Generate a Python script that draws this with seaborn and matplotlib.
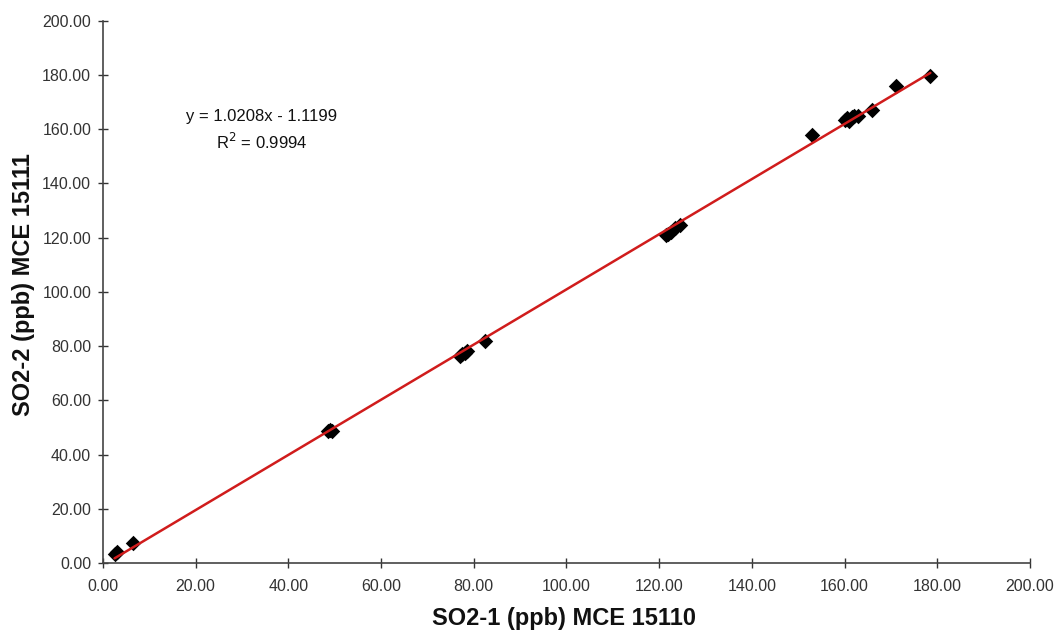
import matplotlib
matplotlib.use("Agg")
import matplotlib.pyplot as plt
import seaborn as sns
import pandas as pd
import numpy as np

so2_1 = [2.5, 3.0, 6.5, 48.5, 49.0, 49.5, 77.0, 77.5, 78.0, 78.5, 82.5,
         121.5, 122.0, 122.5, 123.5, 124.5, 153.0, 160.0, 160.5, 161.0,
         161.5, 162.0, 163.0, 166.0, 171.0, 178.5]
so2_2 = [3.5, 4.0, 7.5, 48.5, 49.0, 48.5, 76.5, 77.0, 77.5, 78.0, 82.0,
         121.0, 121.5, 122.0, 123.5, 124.5, 158.0, 163.5, 164.0, 163.0,
         164.5, 165.0, 165.0, 167.0, 176.0, 179.5]
ticks = [0, 20, 40, 60, 80, 100, 120, 140, 160, 180, 200]
xlabel = "SO2-1 (ppb) MCE 15110"
ylabel = "SO2-2 (ppb) MCE 15111"
eq_text = "y = 1.0208x - 1.1199"
r2_text = "R$^2$ = 0.9994"

df = pd.DataFrame({"x": so2_1, "y": so2_2})

sns.set_style("ticks")
plt.rcParams['font.family'] = ['Liberation Sans', 'DejaVu Sans']

fig = plt.figure(figsize=(10.55, 6.35), dpi=100)
ax = fig.add_axes([0.0976, 0.1134, 0.8787, 0.854])

sns.regplot(data=df, x="x", y="y", ax=ax, scatter=False, ci=None, truncate=True,
            line_kws={"color": "#d01c1c", "lw": 1.8, "zorder": 3})
sns.scatterplot(data=df, x="x", y="y", ax=ax, marker="D", s=62, color="black",
                edgecolor="black", linewidth=0, zorder=2)

ax.set_xlim(0, 200)
ax.set_ylim(0, 200)
ax.set_xticks(ticks)
ax.set_yticks(ticks)
ax.set_xticklabels([f"{t:.2f}" for t in ticks], fontsize=11.5, color="#333333")
ax.set_yticklabels([f"{t:.2f}" for t in ticks], fontsize=11.5, color="#333333")
ax.tick_params(direction="inout", length=7, width=1, color="#333333")
ax.tick_params(axis="x", pad=8)
ax.tick_params(axis="y", pad=5)
for s in ["top", "right"]:
    ax.spines[s].set_visible(False)
for s in ["left", "bottom"]:
    ax.spines[s].set_color("#444444")
    ax.spines[s].set_linewidth(1.2)

ax.set_xlabel(xlabel, fontsize=17, fontweight="bold", color="#111111")
ax.set_ylabel(ylabel, fontsize=17, fontweight="bold", color="#111111")
ax.xaxis.set_label_coords(0.497, -0.082)
ax.yaxis.set_label_coords(-0.073, 0.513)

ax.text(34.2, 164.8, eq_text, fontsize=12, ha="center", va="center", color="#111111")
ax.text(34.2, 155.2, r2_text, fontsize=12, ha="center", va="center", color="#111111")

fig.savefig("out.png", dpi=100)
